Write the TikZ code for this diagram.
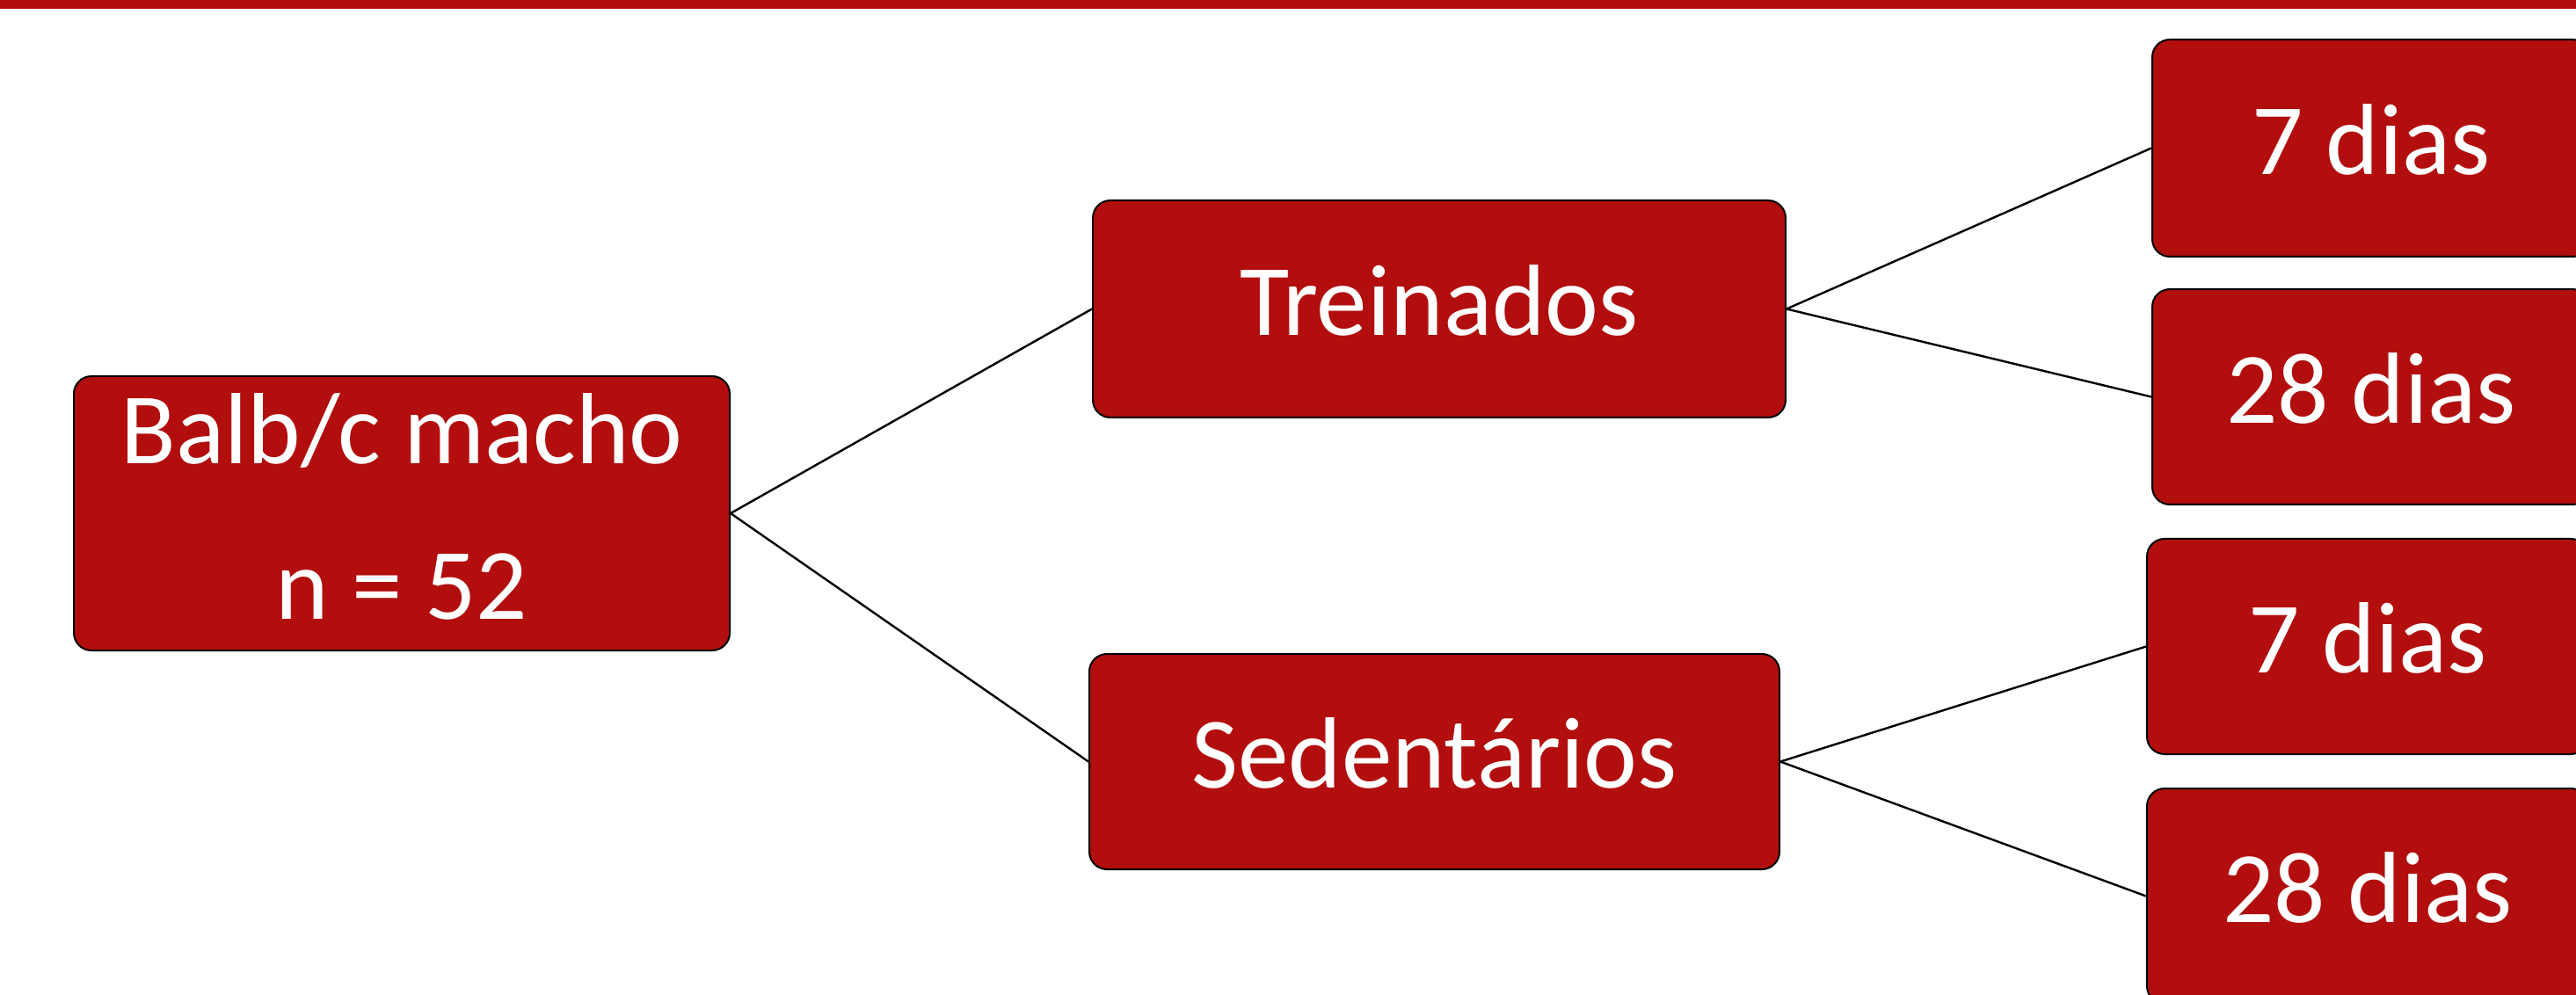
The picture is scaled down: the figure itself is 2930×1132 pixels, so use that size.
\documentclass[tikz,border=0pt]{standalone}
\usepackage{fontspec}
\setmainfont{Carlito}
\definecolor{dred}{RGB}{178,14,14}
\begin{document}
\begin{tikzpicture}[x=0.25pt,y=-0.25pt,
  box/.style={draw=black, line width=0.5pt, fill=dred, rounded corners=5pt,
    text=white, font=\fontsize{28.8}{34}\selectfont, inner sep=0pt},
  onel/.style={text height=18.2pt, text depth=3pt},
  link/.style={draw=black, line width=0.6pt}]
\useasboundingbox (0,0) rectangle (2930,1132);
\fill[dred] (0,0) rectangle (2930,10);
% root
\node[box, align=center, font=\fontsize{28.8}{44.25}\selectfont, text depth=4pt,
  minimum width=186.5pt, minimum height=78pt] (root) at (457,584)
  {Balb/c macho\\n = 52};
% second level
\node[box, onel, minimum width=197pt, minimum height=61.75pt] (tr) at (1637,351.5) {Treinados};
\node[box, onel, minimum width=196.25pt, minimum height=61.25pt] (se) at (1631.5,866.5) {Sedentários};
% third level
\node[box, onel, minimum width=124.5pt, minimum height=61.75pt] (t7) at (2697,168.5) {7 dias};
\node[box, onel, minimum width=124.5pt, minimum height=61.25pt] (t28) at (2697,451.5) {28 dias};
\node[box, onel, minimum width=125.5pt, minimum height=61.25pt] (s7) at (2693,735.5) {7 dias};
\node[box, onel, minimum width=125.5pt, minimum height=61.25pt] (s28) at (2693,1019.5) {28 dias};
% connectors
\draw[link] (root.east) -- (tr.west);
\draw[link] (root.east) -- (se.west);
\draw[link] (tr.east) -- (t7.west);
\draw[link] (tr.east) -- (t28.west);
\draw[link] (se.east) -- (s7.west);
\draw[link] (se.east) -- (s28.west);
\end{tikzpicture}
\end{document}
